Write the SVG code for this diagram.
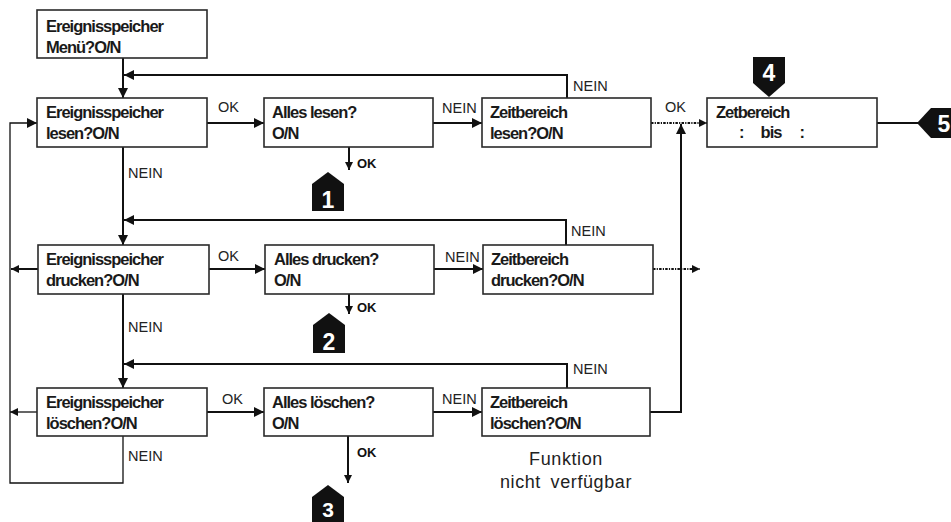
<svg xmlns="http://www.w3.org/2000/svg" width="951" height="522" viewBox="0 0 951 522">
  <style>
    .box rect { fill: #ffffff; stroke: #2a2a2a; stroke-width: 1.6; }
    .box text { font-family: "Liberation Sans", Arial, sans-serif; font-weight: bold; font-size: 16.5px; letter-spacing: -1px; fill: #1a1a1a; }
    .conn path { fill: none; stroke: #111111; stroke-width: 2; }
    .conn path.thin { stroke-width: 1.3; }
    .conn path.dot { stroke-width: 2; stroke-dasharray: 2.5 1.2 1.2 1.2; }
    .lbl { font-family: "Liberation Sans", Arial, sans-serif; font-size: 14.5px; fill: #222222; }
    .ok { font-family: "Liberation Sans", Arial, sans-serif; font-size: 13px; font-weight: bold; fill: #111111; }
    .badge path { fill: #111111; }
    .badge text { font-family: "Liberation Sans", Arial, sans-serif; font-weight: bold; font-size: 23px; fill: #ffffff; text-anchor: middle; }
    .note { font-family: "Liberation Sans", Arial, sans-serif; font-size: 18px; letter-spacing: 0.6px; fill: #222222; text-anchor: middle; }
  </style>
  <defs>
    <marker id="ah" viewBox="0 0 10 10" refX="10" refY="5" markerWidth="10" markerHeight="10" markerUnits="userSpaceOnUse" orient="auto">
      <path d="M0,0 L10,5 L0,10 Z" fill="#111111"/>
    </marker>
    <marker id="ahs" viewBox="0 0 10 10" refX="10" refY="5" markerWidth="8" markerHeight="9" markerUnits="userSpaceOnUse" orient="auto">
      <path d="M0,0 L10,5 L0,10 Z" fill="#111111"/>
    </marker>
  </defs>

  <!-- connectors -->
  <g id="connectors" class="conn">
    <path d="M123,58 V98" marker-end="url(#ah)"/>
    <path d="M567,98 V75 H124" marker-end="url(#ah)"/>
    <path d="M123,147 V245" marker-end="url(#ah)"/>
    <path d="M566,245 V220 H124" marker-end="url(#ah)"/>
    <path d="M123,294 V388" marker-end="url(#ah)"/>
    <path d="M567,388 V364 H124" marker-end="url(#ah)"/>
    <path class="thin" d="M123,436 V483 H10 V123 H37" marker-end="url(#ah)"/>

    <path d="M207,123 H264" marker-end="url(#ah)"/>
    <path d="M433,123 H482" marker-end="url(#ah)"/>
    <path class="dot" d="M651,123 H707" marker-end="url(#ahs)"/>
    <path d="M877,123 H918"/>
    <path d="M349,147 V170" marker-end="url(#ahs)"/>

    <path d="M38,269 H11" marker-end="url(#ahs)"/>
    <path d="M209,269 H265" marker-end="url(#ah)"/>
    <path d="M434,269 H483" marker-end="url(#ah)"/>
    <path class="dot" d="M653,269 H700" marker-end="url(#ahs)"/>
    <path d="M349,294 V314" marker-end="url(#ahs)"/>

    <path class="thin" d="M37,412 H10" marker-end="url(#ahs)"/>
    <path d="M207,412 H264" marker-end="url(#ah)"/>
    <path d="M433,412 H482" marker-end="url(#ah)"/>
    <path d="M650,412 H681 V124" marker-end="url(#ah)"/>
    <path d="M348,436 V483" marker-end="url(#ahs)"/>
  </g>

  <!-- connector labels -->
  <g id="labels">
    <text class="lbl" x="573" y="91">NEIN</text>
    <text class="lbl" x="218" y="112">OK</text>
    <text class="lbl" x="442" y="113">NEIN</text>
    <text class="lbl" x="665" y="112">OK</text>
    <text class="lbl" x="128" y="178">NEIN</text>
    <text class="ok" x="357" y="168">OK</text>

    <text class="lbl" x="571" y="236">NEIN</text>
    <text class="lbl" x="218" y="261">OK</text>
    <text class="lbl" x="445" y="262">NEIN</text>
    <text class="lbl" x="128" y="332">NEIN</text>
    <text class="ok" x="357" y="312">OK</text>

    <text class="lbl" x="573" y="374">NEIN</text>
    <text class="lbl" x="222" y="404">OK</text>
    <text class="lbl" x="442" y="404">NEIN</text>
    <text class="lbl" x="128" y="461">NEIN</text>
    <text class="ok" x="357" y="457">OK</text>

    <text class="note" x="566" y="465">Funktion</text>
    <text class="note" x="566" y="488" word-spacing="4">nicht verfügbar</text>
  </g>

  <!-- nodes -->
  <g id="menu" class="box">
    <rect x="37" y="10" width="170" height="48"/>
    <text x="46" y="32">Ereignisspeicher</text>
    <text x="46" y="53">Menü?O/N</text>
  </g>

  <g id="lesen" class="box">
    <rect x="37" y="98" width="170" height="49"/>
    <text x="46" y="118">Ereignisspeicher</text>
    <text x="46" y="139">lesen?O/N</text>
  </g>
  <g id="alles-lesen" class="box">
    <rect x="264" y="98" width="169" height="49"/>
    <text x="272" y="118">Alles lesen?</text>
    <text x="272" y="139">O/N</text>
  </g>
  <g id="zeit-lesen" class="box">
    <rect x="482" y="98" width="169" height="49"/>
    <text x="490" y="118">Zeitbereich</text>
    <text x="490" y="139">lesen?O/N</text>
  </g>
  <g id="zeitbereich" class="box">
    <rect x="707" y="98" width="170" height="49"/>
    <text x="716" y="118">Zetbereich</text>
    <text y="138"><tspan x="739">:</tspan><tspan x="757"> bis</tspan><tspan x="796"> :</tspan></text>
  </g>

  <g id="drucken" class="box">
    <rect x="38" y="245" width="171" height="49"/>
    <text x="46" y="265">Ereignisspeicher</text>
    <text x="46" y="286">drucken?O/N</text>
  </g>
  <g id="alles-drucken" class="box">
    <rect x="265" y="245" width="169" height="49"/>
    <text x="274" y="265">Alles drucken?</text>
    <text x="274" y="286">O/N</text>
  </g>
  <g id="zeit-drucken" class="box">
    <rect x="483" y="245" width="170" height="49"/>
    <text x="491" y="265">Zeitbereich</text>
    <text x="491" y="286">drucken?O/N</text>
  </g>

  <g id="loeschen" class="box">
    <rect x="37" y="388" width="170" height="48"/>
    <text x="46" y="408">Ereignisspeicher</text>
    <text x="46" y="429">löschen?O/N</text>
  </g>
  <g id="alles-loeschen" class="box">
    <rect x="264" y="388" width="169" height="48"/>
    <text x="272" y="408">Alles löschen?</text>
    <text x="272" y="429">O/N</text>
  </g>
  <g id="zeit-loeschen" class="box">
    <rect x="482" y="388" width="168" height="48"/>
    <text x="490" y="408">Zeitbereich</text>
    <text x="490" y="429">löschen?O/N</text>
  </g>

  <!-- numbered markers -->
  <g id="badge-1" class="badge">
    <path d="M312,184 L328,172 L344,184 V211 H312 Z"/>
    <text x="328" y="208">1</text>
  </g>
  <g id="badge-2" class="badge">
    <path d="M313,325 L329,313 L345,325 V353 H313 Z"/>
    <text x="329" y="350">2</text>
  </g>
  <g id="badge-3" class="badge">
    <path d="M312,497 L328,485 L344,497 V524 H312 Z"/>
    <text x="328" y="517" style="font-size:21px">3</text>
  </g>
  <g id="badge-4" class="badge">
    <path d="M753,57 H785 V83 L769,97 L753,83 Z"/>
    <text x="769" y="81">4</text>
  </g>
  <g id="badge-5" class="badge">
    <path d="M917,123 L931,108 H953 V138 H931 Z"/>
    <text x="944" y="132">5</text>
  </g>
</svg>
